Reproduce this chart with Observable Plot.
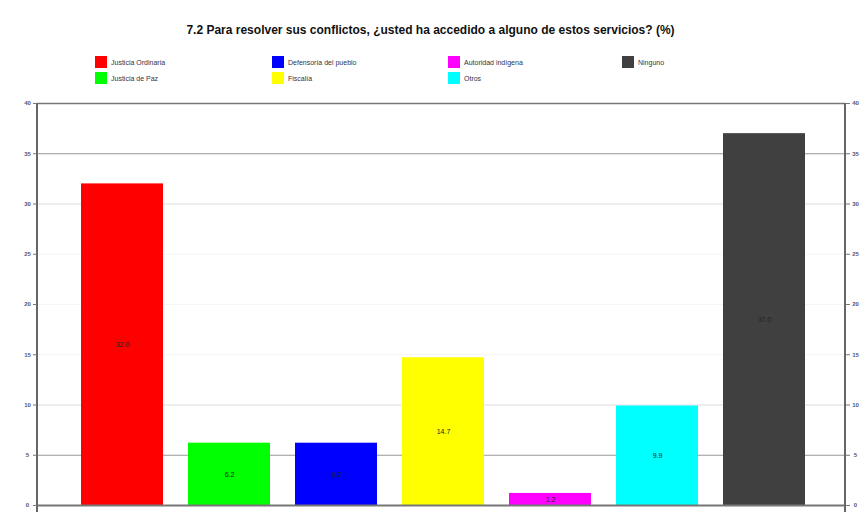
<!DOCTYPE html>
<html><head><meta charset="utf-8">
<script src="https://cdn.jsdelivr.net/npm/d3@7"></script>
<script src="https://cdn.jsdelivr.net/npm/@observablehq/plot@0.6"></script>
<style>
body{margin:0;background:#fff;font-family:"Liberation Sans",Arial,sans-serif;}
#wrap{position:relative;width:861px;height:522px;overflow:hidden;}
#title{position:absolute;left:0;width:861px;top:23px;text-align:center;font-weight:bold;font-size:12px;color:#111;}
.leg{position:absolute;font-size:7px;color:#334;display:flex;align-items:center;}
.leg span.sw{display:inline-block;width:12px;height:12px;margin-right:4px;}
#chart{position:absolute;left:0;top:90px;}
</style></head>
<body><div id="wrap">
<div id="title">7.2 Para resolver sus conflictos, ¿usted ha accedido a alguno de estos servicios? (%)</div>
<div id="legend"></div>
<div id="chart"></div>
</div>
<script>
const categories = ["Justicia Ordinaria","Justicia de Paz","Defensoría del pueblo","Fiscalía","Autoridad indígena","Otros","Ninguno"];
const values = [32.0, 6.2, 6.2, 14.7, 1.2, 9.9, 37.0];
const labels = ["32.0","6.2","6.2","14.7","1.2","9.9","37.0"];
const colors = ["#ff0000","#00ff00","#0000ff","#ffff00","#ff00ff","#00ffff","#404040"];
const yTicks = [0,5,10,15,20,25,30,35,40];

const data = categories.map((c,i)=>({cat:c, value:values[i], label:labels[i]}));

// legend (column-major, 2 rows, 4 columns)
const legend = document.getElementById("legend");
const colX = [95,272,448,622], rowY = [56,72];
categories.forEach((c,i)=>{
  const col = Math.floor(i/2), row = i%2;
  const d = document.createElement("div");
  d.className = "leg";
  d.style.left = colX[col]+"px"; d.style.top = rowY[row]+"px";
  d.innerHTML = `<span class="sw" style="background:${colors[i]}"></span>${c}`;
  legend.appendChild(d);
});

// vertical axis lines at left and right edges of the frame
function axisLines(index, scales, values, dims) {
  const g = d3.create("svg:g");
  const y0 = scales.y(0) + 7, y1 = scales.y(40);
  [dims.marginLeft, dims.width - dims.marginRight].forEach(x => {
    g.append("line").attr("x1", x).attr("x2", x).attr("y1", y0).attr("y2", y1)
      .attr("stroke", "#666").attr("stroke-width", 2);
  });
  return g.node();
}

const plot = Plot.plot({
  width: 861, height: 432,
  marginTop: 13, marginBottom: 17, marginLeft: 37, marginRight: 16,
  x: {domain: categories, range: [67, 818], paddingInner: 0.235, paddingOuter: 0.1175, axis: null},
  y: {domain: [0, 40], axis: null, label: null},
  color: {domain: categories, range: colors},
  style: {fontFamily: "Liberation Sans, Arial, sans-serif"},
  marks: [
    Plot.ruleY([5, 35], {stroke: "#999", strokeWidth: 1.2}),
    Plot.ruleY([10, 30], {stroke: "#ddd", strokeWidth: 1.2}),
    Plot.ruleY([15, 20, 25], {stroke: "#f5f5f5", strokeWidth: 1}),
    Plot.ruleY([40], {stroke: "#777", strokeWidth: 1.5}),
    Plot.barY(data, {x: "cat", y: "value", fill: "cat"}),
    Plot.ruleY([0], {stroke: "#777", strokeWidth: 2}),
    axisLines,
    Plot.axisY({anchor: "left", label: null, ticks: yTicks, tickSize: 4, tickPadding: 6, fontSize: 6, fontWeight: "bold", color: "#557", stroke: "#777", textAnchor: "middle"}),
    Plot.axisY({anchor: "right", label: null, ticks: yTicks, tickSize: 4, tickPadding: 6, fontSize: 6, fontWeight: "bold", color: "#557", stroke: "#777", textAnchor: "middle"}),
    Plot.text(data, {x: "cat", y: d=>d.value/2, text: "label", fontSize: 7, fill: "#222"})
  ]
});
document.getElementById("chart").appendChild(plot);
</script>
</body></html>
